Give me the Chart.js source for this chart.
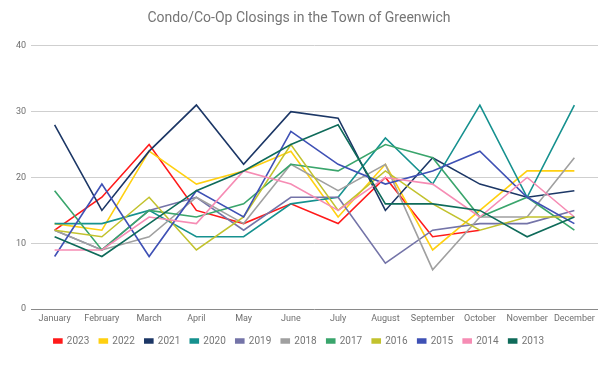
<!DOCTYPE html>
<html>
<head>
<meta charset="utf-8">
<script src="https://cdn.jsdelivr.net/npm/chart.js@4/dist/chart.umd.min.js"></script>
<style>
  html, body { margin: 0; padding: 0; background: #fff; }
  #wrap { width: 615px; height: 369px; }
</style>
</head>
<body>
<div id="wrap"><canvas id="closingsChart"></canvas></div>
<script>
const months = ['January', 'February', 'March', 'April', 'May', 'June', 'July', 'August', 'September', 'October', 'November', 'December']
const yTicks = [0, 10, 20, 30, 40]

const y2023 = [12, 17, 25, 15, 13, 16, 13, 20, 11, 12, null, null]
const y2022 = [13, 12, 24, 19, 21, 24, 14, 22, 9, 15, 21, 21]
const y2021 = [28, 15, 24, 31, 22, 30, 29, 15, 23, 19, 17, 18]
const y2020 = [13, 13, 15, 11, 11, 16, 17, 26, 19, 31, 17, 31]
const y2019 = [12, 9, 15, 17, 12, 17, 17, 7, 12, 13, 13, 15]
const y2018 = [12, 9, 11, 17, 13, 22, 18, 22, 6, 14, 14, 23]
const y2017 = [18, 9, 15, 14, 16, 22, 21, 25, 23, 14, 17, 12]
const y2016 = [12, 11, 17, 9, 14, 25, 15, 21, 16, 12, 14, 14]
const y2015 = [8, 19, 8, 18, 14, 27, 22, 19, 21, 24, 17, 13]
const y2014 = [9, 9, 14, 13, 21, 19, 15, 20, 19, 14, 20, 14]
const y2013 = [11, 8, 13, 18, 21, 25, 28, 16, 16, 15, 11, 14]

const series = [
    ['2023', y2023, '#ff1a1a'],
    ['2022', y2022, '#ffd011'],
    ['2021', y2021, '#1c3766'],
    ['2020', y2020, '#16918f'],
    ['2019', y2019, '#7474a8'],
    ['2018', y2018, '#a0a0a0'],
    ['2017', y2017, '#3aa56c'],
    ['2016', y2016, '#c2c22e'],
    ['2015', y2015, '#3f51b5'],
    ['2014', y2014, '#f68cb4'],
    ['2013', y2013, '#0f6b5a']
]

const datasets = series.map((s, i) => ({
    label: s[0],
    data: s[1],
    borderColor: s[2],
    backgroundColor: s[2],
    borderWidth: 1.6,
    pointRadius: 0,
    tension: 0,
    // later years drawn under, so 2013 ends up on top like the original
    order: series.length - i
}))

const ctx = document.getElementById('closingsChart')

new Chart(ctx, {
    type: 'line',
    data: {
        labels: months,
        datasets: datasets
    },
    options: {
        responsive: true,
        maintainAspectRatio: false,
        animation: false,
        layout: {
            padding: { left: 0, right: 17, top: 0, bottom: 13 }
        },
        plugins: {
            title: {
                display: true,
                text: 'Condo/Co-Op Closings in the Town of Greenwich',
                color: '#757575',
                font: { family: 'Roboto', size: 14, weight: 'normal' },
                padding: { top: 10, bottom: 19 }
            },
            legend: {
                position: 'bottom',
                labels: {
                    boxWidth: 8,
                    boxHeight: 4,
                    padding: 10,
                    color: '#757575',
                    font: { family: 'Roboto', size: 10 },
                    sort: (a, b) => a.datasetIndex - b.datasetIndex
                }
            },
            tooltip: { enabled: false }
        },
        scales: {
            x: {
                offset: true,
                afterFit: scale => { scale.height = 16.8 },
                grid: { display: false, drawTicks: false },
                border: { display: false },
                ticks: {
                    color: '#6f6f6f',
                    font: { family: 'Roboto', size: 9 },
                    padding: 4,
                    maxRotation: 0,
                    autoSkip: false
                }
            },
            y: {
                min: 0,
                max: 40,
                afterFit: scale => { scale.width = 31 },
                afterBuildTicks: scale => { scale.ticks = yTicks.map(v => ({ value: v })) },
                grid: {
                    drawTicks: false,
                    color: c => c.tick && c.tick.value === 0 ? '#8a8a8a' : '#cfcfcf',
                    lineWidth: 1
                },
                border: { display: false },
                ticks: {
                    color: '#6f6f6f',
                    font: { family: 'Roboto', size: 9 },
                    padding: 5
                }
            }
        }
    }
})
</script>
</body>
</html>
